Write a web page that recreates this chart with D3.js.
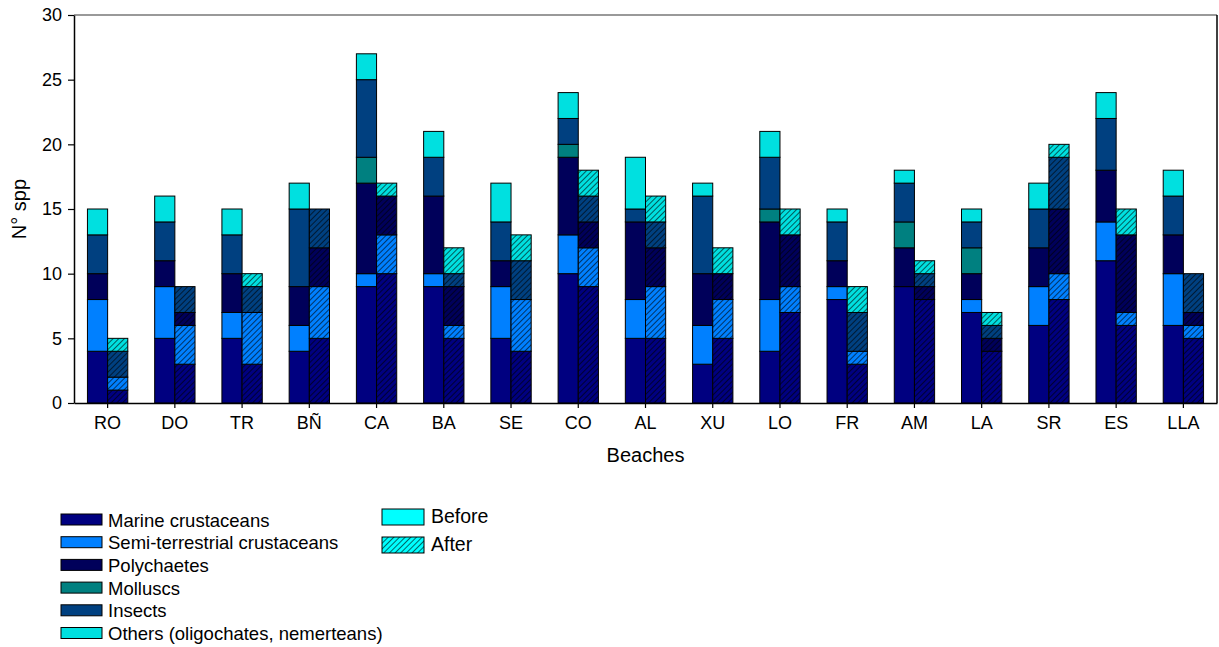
<!DOCTYPE html>
<html>
<head>
<meta charset="utf-8">
<script src="https://cdn.jsdelivr.net/npm/d3@7"></script>
<style>
  body { margin: 0; background: #fff; }
  svg { display: block; font-family: "Liberation Sans", Arial, sans-serif; }
</style>
</head>
<body>
<div id="chart"></div>
<script>
// beaches and species counts per group, before and after
var beaches = ["RO", "DO", "TR", "BÑ", "CA", "BA", "SE", "CO", "AL", "XU", "LO", "FR", "AM", "LA", "SR", "ES", "LLA"];

var groups = ["Marine crustaceans", "Semi-terrestrial crustaceans", "Polychaetes", "Molluscs", "Insects", "Others (oligochates, nemerteans)"];

var beforeMarine  = [4, 5, 5, 4, 9, 9, 5, 10, 5, 3, 4, 8, 9, 7, 6, 11, 6];
var beforeSemi    = [4, 4, 2, 2, 1, 1, 4, 3, 3, 3, 4, 1, 0, 1, 3, 3, 4];
var beforePoly    = [2, 2, 3, 3, 7, 6, 2, 6, 6, 4, 6, 2, 3, 2, 3, 4, 3];
var beforeMollusc = [0, 0, 0, 0, 2, 0, 0, 1, 0, 0, 1, 0, 2, 2, 0, 0, 0];
var beforeInsect  = [3, 3, 3, 6, 6, 3, 3, 2, 1, 6, 4, 3, 3, 2, 3, 4, 3];
var beforeOther   = [2, 2, 2, 2, 2, 2, 3, 2, 4, 1, 2, 1, 1, 1, 2, 2, 2];

var afterMarine  = [1, 3, 3, 5, 10, 5, 4, 9, 5, 5, 7, 3, 8, 4, 8, 6, 5];
var afterSemi    = [1, 3, 4, 4, 3, 1, 4, 3, 4, 3, 2, 1, 0, 0, 2, 1, 1];
var afterPoly    = [0, 1, 0, 3, 3, 3, 0, 2, 3, 2, 4, 0, 1, 1, 5, 6, 1];
var afterMollusc = [0, 0, 0, 0, 0, 0, 0, 0, 0, 0, 0, 0, 0, 0, 0, 0, 0];
var afterInsect  = [2, 2, 2, 3, 0, 1, 3, 2, 2, 0, 0, 3, 1, 1, 4, 0, 3];
var afterOther   = [1, 0, 1, 0, 1, 2, 2, 2, 2, 2, 2, 2, 1, 1, 1, 2, 0];

var yTicks = [0, 5, 10, 15, 20, 25, 30];

var colors = ["#000080", "#0080ff", "#00005a", "#008080", "#004080", "#00e0e0"];

var svgWidth = 1219;
var svgHeight = 647;
var margin = { top: 15, right: 2, bottom: 244, left: 74 };
var chartWidth = svgWidth - margin.left - margin.right;
var chartHeight = svgHeight - margin.top - margin.bottom;

var svg = d3.select("#chart")
  .append("svg")
  .attr("width", svgWidth)
  .attr("height", svgHeight);

// hatch patterns, one per group colour
var defs = svg.append("defs");
function addHatch(id, color) {
  var p = defs.append("pattern")
    .attr("id", id)
    .attr("patternUnits", "userSpaceOnUse")
    .attr("width", 4)
    .attr("height", 4)
    .attr("patternTransform", "rotate(45)");
  p.append("rect").attr("width", 4).attr("height", 4).attr("fill", color);
  p.append("line")
    .attr("x1", 0).attr("y1", 0).attr("x2", 0).attr("y2", 4)
    .attr("stroke", "#000").attr("stroke-width", 1.2);
}
colors.forEach(function(c, i) { addHatch("hatch" + i, c); });
addHatch("hatchLegend", "#00ffff");

var chartGroup = svg.append("g")
  .attr("transform", `translate(${margin.left}, ${margin.top})`);

var x = d3.scaleBand()
  .domain(beaches)
  .range([0, chartWidth])
  .paddingInner(0.4)
  .paddingOuter(0.2);

var y = d3.scaleLinear()
  .domain([0, 30])
  .range([chartHeight, 0]);

function makeRows(cols) {
  return beaches.map(function(b, i) {
    var row = { beach: b };
    groups.forEach(function(g, j) { row[g] = cols[j][i]; });
    return row;
  });
}

var beforeRows = makeRows([beforeMarine, beforeSemi, beforePoly, beforeMollusc, beforeInsect, beforeOther]);
var afterRows = makeRows([afterMarine, afterSemi, afterPoly, afterMollusc, afterInsect, afterOther]);

var stack = d3.stack().keys(groups);
var half = x.bandwidth() / 2;

function drawStack(rows, offset, hatched) {
  var layers = stack(rows);
  chartGroup.append("g").selectAll("g")
    .data(layers)
    .enter()
    .append("g")
    .attr("fill", (d, i) => hatched ? "url(#hatch" + i + ")" : colors[i])
    .selectAll("rect")
    .data(d => d.filter(s => s[1] > s[0]))
    .enter()
    .append("rect")
    .attr("x", d => x(d.data.beach) + offset)
    .attr("y", d => y(d[1]))
    .attr("width", half)
    .attr("height", d => y(d[0]) - y(d[1]))
    .attr("stroke", "#000")
    .attr("stroke-width", 1);
}

drawStack(beforeRows, 0, false);
drawStack(afterRows, half, true);

// frame
chartGroup.append("line")
  .attr("x1", 0).attr("x2", chartWidth).attr("y1", 0).attr("y2", 0)
  .attr("stroke", "#777").attr("stroke-width", 1.5);
chartGroup.append("line")
  .attr("x1", chartWidth).attr("x2", chartWidth).attr("y1", 0).attr("y2", chartHeight)
  .attr("stroke", "#000").attr("stroke-width", 1.5);

// axes
var bottomAxis = d3.axisBottom(x).tickSize(5).tickSizeOuter(0).tickPadding(8);
var leftAxis = d3.axisLeft(y).tickValues(yTicks).tickSize(6).tickSizeOuter(0).tickPadding(6);

var xAxisG = chartGroup.append("g")
  .attr("transform", `translate(0, ${chartHeight})`)
  .call(bottomAxis);

var yAxisG = chartGroup.append("g")
  .call(leftAxis);

[xAxisG, yAxisG].forEach(function(g) {
  g.select(".domain").attr("stroke", "#000").attr("stroke-width", 1.5);
  g.selectAll(".tick line").attr("stroke", "#000").attr("stroke-width", 1.2);
  g.selectAll(".tick text")
    .attr("fill", "#000")
    .style("font-size", "18px")
    .style("font-family", "Liberation Sans, Arial, sans-serif");
});

// axis labels
svg.append("text")
  .attr("x", margin.left + chartWidth / 2)
  .attr("y", 462)
  .attr("text-anchor", "middle")
  .style("font-size", "20px")
  .text("Beaches");

svg.append("text")
  .attr("transform", `translate(26, ${margin.top + chartHeight / 2}) rotate(-90)`)
  .attr("text-anchor", "middle")
  .style("font-size", "20px")
  .text("N° spp");

// legend for groups
var legend = svg.append("g").attr("transform", "translate(61, 514)");
groups.forEach(function(g, i) {
  var row = legend.append("g").attr("transform", `translate(0, ${i * 22.7})`);
  row.append("rect")
    .attr("width", 41).attr("height", 11)
    .attr("fill", colors[i])
    .attr("stroke", "#000").attr("stroke-width", 1);
  row.append("text")
    .attr("x", 47).attr("y", 12.5)
    .style("font-size", "18.5px")
    .text(g);
});

// legend for before / after
var periods = ["Before", "After"];
var legend2 = svg.append("g").attr("transform", "translate(382, 509)");
periods.forEach(function(p, i) {
  var row = legend2.append("g").attr("transform", `translate(0, ${i * 28})`);
  row.append("rect")
    .attr("width", 42).attr("height", 16)
    .attr("fill", i === 0 ? "#00ffff" : "url(#hatchLegend)")
    .attr("stroke", "#000").attr("stroke-width", 1);
  row.append("text")
    .attr("x", 49).attr("y", 14)
    .style("font-size", "19.5px")
    .text(p);
});
</script>
</body>
</html>
